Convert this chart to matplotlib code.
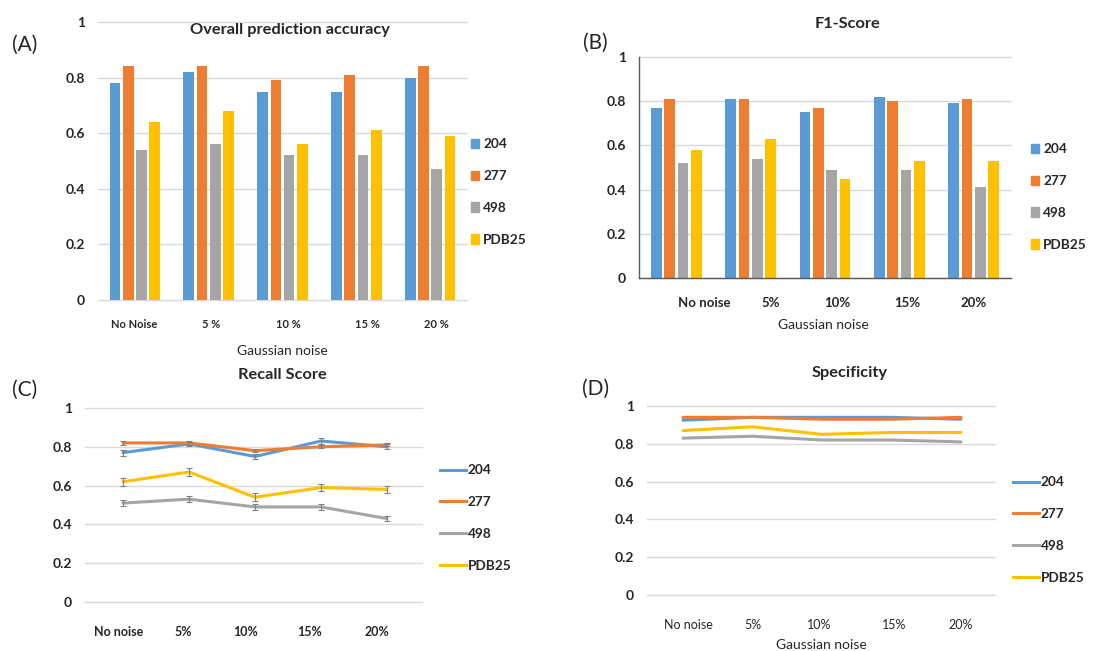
import matplotlib
matplotlib.use("Agg")
import matplotlib.pyplot as plt
from matplotlib.patches import Patch
from matplotlib.lines import Line2D
import numpy as np

plt.rcParams["font.family"] = ["Lato", "DejaVu Sans"]
plt.rcParams["text.color"] = "#262626"

# ---- data -------------------------------------------------------------
series = ["204", "277", "498", "PDB25"]
colors = ["#5B9BD5", "#ED7D31", "#A5A5A5", "#FFC000"]

acc_labels = ["No Noise", "5 %", "10 %", "15 %", "20 %"]
acc_204 = [0.78, 0.82, 0.75, 0.75, 0.80]
acc_277 = [0.84, 0.84, 0.79, 0.81, 0.84]
acc_498 = [0.54, 0.56, 0.52, 0.52, 0.47]
acc_pdb25 = [0.64, 0.68, 0.56, 0.61, 0.59]

f1_labels = ["No noise", "5%", "10%", "15%", "20%"]
f1_204 = [0.77, 0.81, 0.75, 0.82, 0.79]
f1_277 = [0.81, 0.81, 0.77, 0.80, 0.81]
f1_498 = [0.52, 0.54, 0.49, 0.49, 0.41]
f1_pdb25 = [0.58, 0.63, 0.45, 0.53, 0.53]

rec_labels = ["No noise", "5%", "10%", "15%", "20%"]
rec_204 = [0.77, 0.815, 0.75, 0.83, 0.80]
rec_277 = [0.82, 0.82, 0.78, 0.80, 0.81]
rec_498 = [0.51, 0.53, 0.49, 0.49, 0.43]
rec_pdb25 = [0.62, 0.67, 0.54, 0.59, 0.58]
rec_204_err = [0.015, 0.012, 0.015, 0.015, 0.012]
rec_277_err = [0.01, 0.01, 0.008, 0.008, 0.008]
rec_498_err = [0.015, 0.015, 0.017, 0.015, 0.015]
rec_pdb25_err = [0.02, 0.02, 0.02, 0.018, 0.02]

spec_labels = ["No noise", "5%", "10%", "15%", "20%"]
spec_204 = [0.925, 0.94, 0.94, 0.94, 0.93]
spec_277 = [0.94, 0.94, 0.93, 0.93, 0.94]
spec_498 = [0.83, 0.84, 0.82, 0.82, 0.81]
spec_pdb25 = [0.87, 0.89, 0.85, 0.86, 0.86]

y_ticks = [0, 0.2, 0.4, 0.6, 0.8, 1]
y_tick_labels = ["0", "0.2", "0.4", "0.6", "0.8", "1"]

# ---- layout helpers (pixel -> figure fraction) --------------------------
W, H = 1118, 651
fig = plt.figure(figsize=(W / 100, H / 100), dpi=100)


def fx(x):
    return x / W


def fy(y):
    return 1 - y / H


def box(left, top, right, bottom):
    return [fx(left), fy(bottom), (right - left) / W, (bottom - top) / H]


GRID = "#D9D9D9"
TITLE_SIZE = 11.8
LETTER_SIZE = 15
XLABEL_SIZE = 10


def base_axes(ax, xlim, xtick_pos, labels, tick_size, tick_pad, tick_weight="bold"):
    ax.set_xlim(*xlim)
    ax.set_ylim(0, 1)
    ax.set_yticks(y_ticks, y_tick_labels)
    ax.set_xticks(xtick_pos, labels)
    ax.yaxis.grid(True, color=GRID, lw=1.0, zorder=0)
    for gl in ax.get_ygridlines():
        gl.set_clip_on(False)
    ax.set_axisbelow(True)
    for s in ax.spines.values():
        s.set_visible(False)
    ax.tick_params(axis="y", length=0, pad=9.5, labelsize=10, labelcolor="#262626")
    ax.tick_params(axis="x", length=0, pad=tick_pad, labelsize=tick_size, labelcolor="#262626")
    for t in ax.get_yticklabels():
        t.set_fontweight("bold")
    for t in ax.get_xticklabels():
        t.set_fontweight(tick_weight)


def bar_panel(ax, labels, values, shifts, tick_size, tick_pad):
    x = np.arange(len(labels))
    step, width = 0.18, 0.145
    for i, (vals, c) in enumerate(zip(values, colors)):
        ax.bar(x + (i - 1.5) * step, vals, width, color=c, zorder=2)
    base_axes(ax, (-0.5, len(labels) - 0.5), x + np.array(shifts), labels, tick_size, tick_pad)


def line_panel(ax, labels, values, xlim, shifts, tick_size, tick_pad, errors=None, tick_weight="bold"):
    x = np.arange(len(labels))
    for i, (vals, c) in enumerate(zip(values, colors)):
        ax.plot(x, vals, color=c, lw=2.2, solid_capstyle="round", zorder=2)
        if errors is not None:
            ax.errorbar(x, vals, yerr=errors[i], fmt="none", ecolor="#808080",
                        elinewidth=0.8, capsize=2.5, capthick=0.8, zorder=3)
    base_axes(ax, xlim, x + np.array(shifts), labels, tick_size, tick_pad, tick_weight)


def legend(handles, x_left, y_mid, hlen, hpad, spacing=1.45):
    fig.legend(handles, series, loc="center left", bbox_to_anchor=(fx(x_left), fy(y_mid)),
               frameon=False, borderpad=0, borderaxespad=0, handlelength=hlen,
               handleheight=0.7, handletextpad=hpad, labelspacing=spacing,
               prop={"size": 9.8, "weight": "bold"})


bar_handles = [Patch(color=c) for c in colors]
line_handles = [Line2D([], [], color=c, lw=2.2) for c in colors]

# ---- (A) overall accuracy ----------------------------------------------
ax_a = fig.add_axes(box(98, 22, 467, 300))
bar_panel(ax_a, acc_labels, [acc_204, acc_277, acc_498, acc_pdb25],
          [-0.01, 0.03, 0.08, 0.15, 0.09], 8, 14)
fig.text(fx(290), fy(30), "Overall prediction accuracy", ha="center", va="center",
         fontsize=TITLE_SIZE, fontweight="bold")
fig.text(fx(282), fy(351), "Gaussian noise", ha="center", va="center", fontsize=XLABEL_SIZE)
fig.text(fx(25), fy(45), "(A)", ha="center", va="center", fontsize=LETTER_SIZE)
legend(bar_handles, 471, 192, 0.6, 0.3)

# ---- (B) F1 ------------------------------------------------------------
ax_b = fig.add_axes(box(639, 57, 1011, 278))
bar_panel(ax_b, f1_labels, [f1_204, f1_277, f1_498, f1_pdb25],
          [0.38, 0.27, 0.16, 0.11, 0.0], 9.5, 14)
for side in ("left", "bottom"):
    ax_b.spines[side].set_visible(True)
    ax_b.spines[side].set_color("#595959")
    ax_b.spines[side].set_linewidth(1.0)
fig.text(fx(847), fy(24), "F1-Score", ha="center", va="center", fontsize=TITLE_SIZE, fontweight="bold")
fig.text(fx(823), fy(325), "Gaussian noise", ha="center", va="center", fontsize=XLABEL_SIZE)
fig.text(fx(595), fy(43), "(B)", ha="center", va="center", fontsize=LETTER_SIZE)
legend(bar_handles, 1031, 197, 0.6, 0.3)

# ---- (C) recall --------------------------------------------------------
ax_c = fig.add_axes(box(85, 408, 422, 602))
line_panel(ax_c, rec_labels, [rec_204, rec_277, rec_498, rec_pdb25], (-0.576, 4.53),
           [-0.06, -0.09, -0.15, -0.18, -0.15], 9, 17.5,
           errors=[rec_204_err, rec_277_err, rec_498_err, rec_pdb25_err])
fig.text(fx(282), fy(375), "Recall Score", ha="center", va="center", fontsize=TITLE_SIZE, fontweight="bold")
fig.text(fx(25), fy(390), "(C)", ha="center", va="center", fontsize=LETTER_SIZE)
legend(line_handles, 440, 518, 1.9, 0.15)

# ---- (D) specificity ---------------------------------------------------
ax_d = fig.add_axes(box(647, 406, 995, 595))
line_panel(ax_d, spec_labels, [spec_204, spec_277, spec_498, spec_pdb25], (-0.518, 4.49),
           [0.08, 0.0, -0.04, 0.04, 0.0], 9, 17, tick_weight="normal")
fig.text(fx(850), fy(373), "Specificity", ha="center", va="center", fontsize=TITLE_SIZE, fontweight="bold")
fig.text(fx(821), fy(645), "Gaussian noise", ha="center", va="center", fontsize=XLABEL_SIZE)
fig.text(fx(596), fy(389), "(D)", ha="center", va="center", fontsize=LETTER_SIZE)
legend(line_handles, 1013, 530, 1.9, 0.15)

fig.savefig("out.png", dpi=100)
